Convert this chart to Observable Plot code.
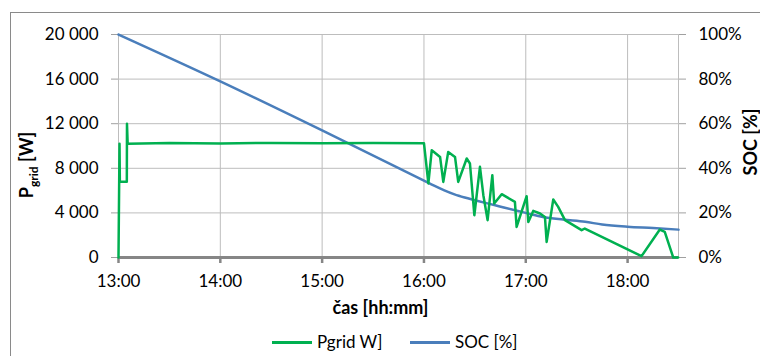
<!DOCTYPE html>
<html>
<head>
<meta charset="utf-8">
<script src="https://cdn.jsdelivr.net/npm/d3@7"></script>
<script src="https://cdn.jsdelivr.net/npm/@observablehq/plot@0.6"></script>
<style>
  html, body { margin: 0; padding: 0; background: #fff; overflow: hidden; }
  #wrap { position: relative; width: 760px; height: 356px; font-family: Lato, sans-serif; overflow: hidden; }
  #frame { position: absolute; left: 10px; top: 12px; width: 900px; height: 500px;
           border-left: 1.5px solid #8a8a8a; border-top: 1.5px solid #8a8a8a; box-sizing: border-box; }
  #chart { position: absolute; left: 0; top: 0; }
  #legend { position: absolute; top: 332px; left: 0; width: 760px; height: 22px; font-size: 17px; color: #000; }
  .sw { position: absolute; top: 9px; height: 2.5px; width: 40px; }
  .lt { position: absolute; top: 0; line-height: 20px; white-space: nowrap; }
</style>
</head>
<body>
<div id="wrap">
  <div id="frame"></div>
  <div id="chart"></div>
  <div id="legend">
    <div class="sw" style="left:272px;background:#00b050"></div>
    <div class="lt" style="left:317px">Pgrid W]</div>
    <div class="sw" style="left:410px;background:#4a7ebb"></div>
    <div class="lt" style="left:455px">SOC [%]</div>
  </div>
</div>
<script>
// Time axis: minutes after 13:00
const START_HOUR = 13;
const hourTicks = [0, 60, 120, 180, 240, 300];
const gridXTicks = [0, 60, 120, 180, 240, 300, 330];
const wTicks = [0, 4000, 8000, 12000, 16000, 20000];
const socTicks = [0, 20, 40, 60, 80, 100];

// Grid power Pgrid [W]
const pgridMin = [0, 0.6, 0.8, 4.9, 5.0, 5.4, 30, 60, 90, 120, 150, 180,
  182.6, 184.6, 189.5, 191.4, 194.3, 198.3, 200.2, 205.2, 207.1, 209.7,
  213.0, 215.0, 217.5, 220.3, 221.4, 225.8, 233.6, 234.6, 240.5, 241.5,
  244.4, 248.4, 251.3, 252.3, 256.2, 259.1, 263.1, 272.9, 274.8,
  308.2, 319.0, 321.9, 326.9, 329.8];
const pgridW = [0, 10200, 6800, 6800, 12000, 10200, 10260, 10230, 10280, 10240, 10270, 10250,
  6640, 9620, 9020, 6780, 9470, 9020, 6780, 8880, 8430, 3790,
  8130, 5590, 3350, 7380, 4840, 5680, 4990, 2740, 5500, 3190,
  4180, 3950, 3640, 1400, 5200, 4540, 3350, 2450, 2600,
  120, 2510, 2300, 0, 0];

// Battery state of charge SOC [%]
const socMin = [0, 60, 120, 180, 186, 192, 198, 204, 210, 222, 241, 250, 262, 275, 285, 300, 315, 330];
const socPct = [100, 79, 57, 34.5, 32.2, 30.1, 28.3, 26.9, 25.7, 23.4, 19.8, 18.2, 17, 16, 14.8, 13.8, 13.2, 12.5];

// SOC shares the power scale: 100 % sits at 20 000 W
const SOC_TO_W = 20000 / 100;

const pgrid = pgridMin.map((t, i) => ({t, w: pgridW[i]}));
const soc = socMin.map((t, i) => ({t, w: socPct[i] * SOC_TO_W}));

const fmtW = d => d3.format(",")(d).replace(/,/g, "\u00a0");
const fmtHour = m => `${START_HOUR + m / 60}:00`;

const chart = Plot.plot({
  width: 760,
  height: 330,
  marginLeft: 118,
  marginRight: 82,
  marginTop: 34,
  marginBottom: 73,
  style: {fontFamily: "Lato, sans-serif", fontSize: "17px", color: "#000", background: "transparent"},
  x: {domain: [0, 330], label: null},
  y: {domain: [0, 20000], label: null},
  marks: [
    Plot.gridY(wTicks.slice(1), {stroke: "#bdbdbd", strokeOpacity: 1}),
    Plot.gridX(gridXTicks, {stroke: "#bdbdbd", strokeOpacity: 1}),
    Plot.axisY(wTicks, {anchor: "left", tickSize: 7, tickPadding: 13, stroke: "#a0a0a0",
      fill: "#000", tickFormat: fmtW, label: null}),
    Plot.axisY(socTicks.map(p => p * SOC_TO_W), {anchor: "right", tickSize: 7, tickPadding: 13,
      stroke: "#a0a0a0", fill: "#000", tickFormat: d => `${d / SOC_TO_W}%`, label: null}),
    Plot.axisX(hourTicks, {anchor: "bottom", tickSize: 6, tickPadding: 11, stroke: "#868686",
      strokeWidth: 2.5, fill: "#000", tickFormat: fmtHour, label: null}),
    Plot.ruleY([0], {stroke: "#868686", strokeWidth: 3}),
    Plot.line(soc, {x: "t", y: "w", stroke: "#4a7ebb", strokeWidth: 2.5, curve: "monotone-x"}),
    Plot.line(pgrid, {x: "t", y: "w", stroke: "#00b050", strokeWidth: 2.5, strokeLinejoin: "round"}),
    Plot.text(["čas [hh:mm]"], {text: d => d, frameAnchor: "bottom", dy: 56, dx: -18,
      fontWeight: "bold", fontSize: 18})
  ]
});

// Rotated axis titles (left one carries a subscript)
const svg = d3.select(chart);
const left = svg.append("text")
  .attr("transform", "translate(33,165) rotate(-90)")
  .attr("text-anchor", "middle")
  .attr("font-weight", "bold")
  .attr("font-size", 18)
  .attr("fill", "#000");
left.append("tspan").text("P");
left.append("tspan").attr("font-size", 12).attr("dy", 5).text("grid");
left.append("tspan").attr("dy", -5).text(" [W]");

svg.append("text")
  .attr("transform", "translate(757,142) rotate(-90)")
  .attr("text-anchor", "middle")
  .attr("font-weight", "bold")
  .attr("font-size", 18)
  .attr("fill", "#000")
  .text("SOC [%]");

document.getElementById("chart").appendChild(chart);
</script>
</body>
</html>
